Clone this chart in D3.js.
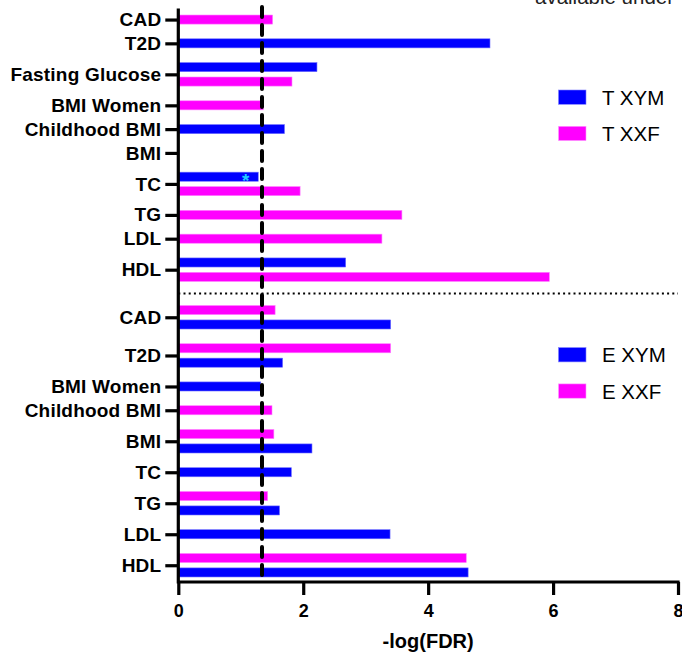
<!DOCTYPE html>
<html>
<head>
<meta charset="utf-8">
<script src="https://cdn.jsdelivr.net/npm/d3@7"></script>
<style>
  html, body { margin: 0; padding: 0; background: #fff; }
  svg { display: block; }
</style>
</head>
<body>
<svg id="chart" width="682" height="656"></svg>
<script>
// ---------- data ----------
const topCategories = ["CAD", "T2D", "Fasting Glucose", "BMI Women", "Childhood BMI", "BMI", "TC", "TG", "LDL", "HDL"];
const topXYM = [null, 4.99, 2.22, null, 1.70, null, 1.28, null, null, 2.68];
const topXXF = [1.51, null, 1.82, 1.36, null, null, 1.95, 3.58, 3.26, 5.94];

const botCategories = ["CAD", "T2D", "BMI Women", "Childhood BMI", "BMI", "TC", "TG", "LDL", "HDL"];
const botXYM = [3.40, 1.67, 1.32, null, 2.14, 1.81, 1.62, 3.39, 4.64];
const botXXF = [1.55, 3.40, null, 1.50, 1.53, null, 1.43, null, 4.61];

const topLegend = ["T XYM", "T XXF"];
const botLegend = ["E XYM", "E XXF"];
const xTicks = [0, 2, 4, 6, 8];
const threshold = 1.34;
const starCategory = "TC"; // annotated bar in top section (XYM)
const xTitle = "-log(FDR)";
const cornerText = "available under";

const BLUE = "#0000ff", MAGENTA = "#ff00ff";

// ---------- layout (in slot units) ----------
const GAP = 0.65, SEP = 1.3, BAR_FRAC = 0.63;
const sections = [
  { cats: topCategories, series: [{ v: topXYM, c: BLUE, key: "XYM" }, { v: topXXF, c: MAGENTA, key: "XXF" }] },
  { cats: botCategories, series: [{ v: botXXF, c: MAGENTA, key: "XXF" }, { v: botXYM, c: BLUE, key: "XYM" }] }
];

const bars = [], ticks = [];
let u = 0, sepCenter = 0;
sections.forEach((sec, si) => {
  if (si > 0) { sepCenter = u - GAP + SEP / 2; u += SEP - GAP; }
  sec.cats.forEach((cat, ci) => {
    const present = sec.series.filter(s => s.v[ci] != null);
    const n = Math.max(1, present.length);
    ticks.push({ pos: u + n / 2, label: cat });
    present.forEach((s, k) => {
      bars.push({ pos: u + k + 0.5, value: s.v[ci], color: s.c, key: s.key, cat, section: si });
    });
    u += n + GAP;
  });
});
const totalUnits = u - GAP;

// ---------- scales ----------
const x = d3.scaleLinear().domain([0, 8]).range([178.3, 678]);
const y = d3.scaleLinear().domain([0, totalUnits]).range([12.35, 579.65]);
const barH = (y(1) - y(0)) * BAR_FRAC;
const axisY = 582;

const svg = d3.select("#chart");
const font = "'Liberation Sans', Arial, Helvetica, sans-serif";

// corner text (cropped at the top edge, as in the reference)
svg.append("text").attr("x", 535).attr("y", 3.5)
  .attr("font-family", font).attr("font-size", 20.5).attr("fill", "#222")
  .text(cornerText);

// bars
svg.append("g").selectAll("rect").data(bars).join("rect")
  .attr("x", x(0))
  .attr("y", d => y(d.pos) - barH / 2)
  .attr("width", d => x(d.value) - x(0))
  .attr("height", barH)
  .attr("fill", d => d.color)
  .attr("stroke", d => d.color === BLUE ? "#6f6fff" : "#ff80ff")
  .attr("stroke-width", 0.6);

// star annotation
const starBar = bars.find(b => b.section === 0 && b.cat === starCategory && b.key === "XYM");
svg.append("text")
  .attr("x", x(starBar.value) - 12.5)
  .attr("y", y(starBar.pos) + 10.5)
  .attr("text-anchor", "middle")
  .attr("font-family", font).attr("font-size", 19).attr("font-weight", "bold")
  .attr("fill", "#22ccff")
  .text("*");

// separator dotted line
svg.append("line")
  .attr("x1", x(0)).attr("x2", x(8))
  .attr("y1", y(sepCenter)).attr("y2", y(sepCenter))
  .attr("stroke", "#000").attr("stroke-width", 2)
  .attr("stroke-dasharray", "2,3.2");

// threshold dashed line
svg.append("line")
  .attr("x1", x(threshold)).attr("x2", x(threshold))
  .attr("y1", 7).attr("y2", 577)
  .attr("stroke", "#000").attr("stroke-width", 4)
  .attr("stroke-linecap", "round")
  .attr("stroke-dasharray", "10,8");

// x axis
const xAxis = svg.append("g").attr("transform", `translate(0,${axisY})`)
  .call(d3.axisBottom(x).tickValues(xTicks).tickSize(13).tickSizeOuter(0).tickPadding(9).tickFormat(d3.format("d")));
xAxis.select(".domain").remove();
xAxis.selectAll(".tick line").attr("stroke", "#000").attr("stroke-width", 3.2);
xAxis.selectAll(".tick text").attr("font-family", font).attr("font-size", 18).attr("font-weight", "bold").attr("fill", "#000");

// y axis
const yAxis = svg.append("g").attr("transform", `translate(${x(0)},0)`)
  .call(d3.axisLeft(y).tickValues(ticks.map(t => t.pos)).tickSize(13).tickSizeOuter(0).tickPadding(4)
    .tickFormat((d, i) => ticks[i].label));
yAxis.select(".domain").remove();
yAxis.selectAll(".tick line").attr("stroke", "#000").attr("stroke-width", 3.2);
yAxis.selectAll(".tick text").attr("font-family", font).attr("font-size", 19).attr("font-weight", "bold")
  .attr("fill", "#000").attr("letter-spacing", 0.2);

// axis lines
svg.append("path")
  .attr("d", `M${x(0)},10 L${x(0)},${axisY} L${x(8)},${axisY}`)
  .attr("fill", "none").attr("stroke", "#000").attr("stroke-width", 3.2).attr("stroke-linecap", "square");

// x axis title
svg.append("text").attr("x", x(4)).attr("y", 648)
  .attr("text-anchor", "middle").attr("font-family", font).attr("font-size", 20).attr("font-weight", "bold")
  .text(xTitle);

// legends
function legend(labels, colors, top) {
  const g = svg.append("g");
  labels.forEach((lab, i) => {
    const yy = top + i * 36.3;
    g.append("rect").attr("x", 558.5).attr("y", yy).attr("width", 27.5).attr("height", 14.3)
      .attr("fill", colors[i]).attr("stroke", colors[i] === BLUE ? "#8080ff" : "#ff9cff").attr("stroke-width", 0.6);
    g.append("text").attr("x", 602).attr("y", yy + 14.6)
      .attr("font-family", font).attr("font-size", 20.5).attr("fill", "#000").text(lab);
  });
}
legend(topLegend, [BLUE, MAGENTA], 90);
legend(botLegend, [BLUE, MAGENTA], 347.6);
</script>
</body>
</html>
